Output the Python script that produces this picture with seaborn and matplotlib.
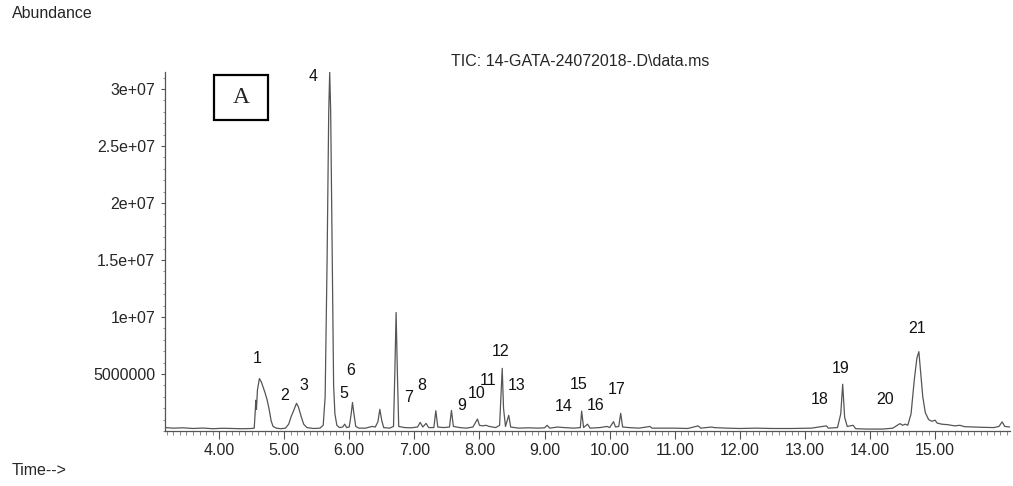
import matplotlib
matplotlib.use("Agg")
import matplotlib.pyplot as plt
import matplotlib.patches as mpatches
from matplotlib.ticker import MultipleLocator, FixedLocator
import seaborn as sns
import pandas as pd

# ---- data ----
time_min = [
    3.17, 3.30, 3.45, 3.60, 3.75, 3.90, 4.05, 4.20, 4.35, 4.50, 4.54, 4.555, 4.565, 4.575,
    4.59, 4.62, 4.65, 4.68, 4.71, 4.74, 4.77, 4.80, 4.83, 4.88, 4.95, 5.02, 5.07, 5.11,
    5.14, 5.16, 5.19, 5.22, 5.26, 5.30, 5.35, 5.45, 5.55, 5.60, 5.63, 5.66, 5.685, 5.70,
    5.715, 5.74, 5.76, 5.78, 5.81, 5.85, 5.90, 5.93, 5.96, 6.00, 6.03, 6.05, 6.07, 6.10,
    6.15, 6.25, 6.35, 6.40, 6.44, 6.47, 6.50, 6.53, 6.62, 6.68, 6.70, 6.72, 6.74, 6.76,
    6.85, 6.95, 7.05, 7.09, 7.13, 7.18, 7.22, 7.30, 7.33, 7.36, 7.45, 7.54, 7.57, 7.60,
    7.70, 7.80, 7.90, 7.97, 8.00, 8.05, 8.10, 8.15, 8.25, 8.31, 8.33, 8.35, 8.37, 8.40,
    8.45, 8.48, 8.60, 8.75, 8.90, 9.00, 9.04, 9.08, 9.20, 9.30, 9.45, 9.55, 9.57, 9.60,
    9.66, 9.70, 9.85, 9.96, 10.00, 10.06, 10.09, 10.14, 10.17, 10.20, 10.30, 10.45, 10.62,
    10.65, 10.85, 11.00, 11.20, 11.36, 11.40, 11.57, 11.60, 11.80, 12.00, 12.25, 12.50,
    12.80, 13.10, 13.33, 13.36, 13.50, 13.55, 13.58, 13.61, 13.65, 13.74, 13.78, 13.95,
    14.20, 14.35, 14.46, 14.50, 14.54, 14.58, 14.63, 14.68, 14.72, 14.75, 14.78, 14.81,
    14.85, 14.90, 14.95, 15.00, 15.03, 15.10, 15.20, 15.30, 15.38, 15.45, 15.60, 15.75,
    15.90, 15.98, 16.03, 16.07, 16.15,
]
abundance_mil = [
    0.30, 0.25, 0.28, 0.22, 0.26, 0.20, 0.24, 0.22, 0.20, 0.22, 0.25, 1.6, 2.7, 1.9,
    3.6, 4.6, 4.3, 3.8, 3.3, 2.7, 1.9, 0.9, 0.4, 0.25, 0.20, 0.25, 0.6, 1.3,
    1.7, 2.0, 2.43, 2.1, 1.3, 0.6, 0.3, 0.22, 0.25, 0.5, 3.0, 15.0, 28.0, 31.5,
    28.0, 15.0, 4.0, 1.5, 0.5, 0.3, 0.35, 0.6, 0.3, 0.35, 1.5, 2.5, 1.6, 0.4,
    0.25, 0.25, 0.4, 0.35, 0.8, 1.9, 0.9, 0.3, 0.25, 0.4, 5.0, 10.4, 5.0, 0.4,
    0.3, 0.28, 0.35, 0.76, 0.35, 0.67, 0.3, 0.3, 1.78, 0.35, 0.3, 0.35, 1.8, 0.4,
    0.3, 0.25, 0.35, 1.05, 0.5, 0.45, 0.5, 0.4, 0.3, 0.5, 3.0, 5.5, 2.0, 0.4,
    1.38, 0.35, 0.25, 0.28, 0.25, 0.28, 0.5, 0.25, 0.35, 0.3, 0.25, 0.3, 1.75, 0.3,
    0.6, 0.25, 0.3, 0.4, 0.3, 0.82, 0.35, 0.4, 1.55, 0.35, 0.3, 0.25, 0.4,
    0.25, 0.25, 0.25, 0.22, 0.45, 0.25, 0.35, 0.30, 0.25, 0.22, 0.25, 0.22,
    0.22, 0.25, 0.45, 0.25, 0.3, 1.5, 4.1, 1.2, 0.4, 0.5, 0.2, 0.17,
    0.17, 0.25, 0.65, 0.5, 0.6, 0.5, 1.5, 4.5, 6.4, 6.96, 5.0, 3.0,
    1.6, 1.0, 0.85, 0.95, 0.7, 0.6, 0.55, 0.45, 0.5, 0.38, 0.35, 0.32,
    0.3, 0.4, 0.8, 0.4, 0.35,
]

peak_labels = [str(i) for i in range(1, 22)]
label_time = [4.59, 5.01, 5.31, 5.45, 5.91, 6.02, 6.91, 7.11, 7.73, 7.96, 8.13,
              8.33, 8.57, 9.30, 9.52, 9.79, 10.11, 13.23, 13.55, 14.23, 14.72]
label_abund_mil = [6.38, 3.1, 3.95, 31.1, 3.3, 5.3, 2.95, 4.0, 2.2, 3.25, 4.47,
                   6.96, 3.95, 2.13, 4.1, 2.28, 3.65, 2.8, 5.5, 2.78, 9.0]

ytick_values = [5e6, 1e7, 1.5e7, 2e7, 2.5e7, 3e7]
ytick_labels = ["5000000", "1e+07", "1.5e+07", "2e+07", "2.5e+07", "3e+07"]
xtick_values = [4, 5, 6, 7, 8, 9, 10, 11, 12, 13, 14, 15]
xtick_labels = [f"{v:.2f}" for v in xtick_values]

title_text = "TIC: 14-GATA-24072018-.D\\data.ms"

# ---- figure ----
sns.set_style("ticks")
plt.rcParams["font.family"] = ["Liberation Sans", "DejaVu Sans"]

df = pd.DataFrame({"time": time_min,
                   "abundance": [v * 1e6 for v in abundance_mil]})

fig = plt.figure(figsize=(10.13, 4.86), dpi=100)
ax = fig.add_axes([165 / 1013, 55 / 486, 845 / 1013, 359 / 486])

sns.lineplot(data=df, x="time", y="abundance", ax=ax, color="#555555",
             linewidth=0.9, estimator=None, sort=False)

ax.set_xlim(3.17, 16.15)
ax.set_ylim(0, 31.5e6)
ax.set_xlabel("")
ax.set_ylabel("")

for s in ["top", "right"]:
    ax.spines[s].set_visible(False)
for s in ["left", "bottom"]:
    ax.spines[s].set_color("#555555")
    ax.spines[s].set_linewidth(0.9)

ax.set_yticks(ytick_values)
ax.set_yticklabels(ytick_labels)
ax.yaxis.set_minor_locator(MultipleLocator(1e6))
ax.set_xticks(xtick_values)
ax.set_xticklabels(xtick_labels)
ax.xaxis.set_minor_locator(FixedLocator([3.2 + 0.1 * i for i in range(130)]))

ax.tick_params(axis="y", which="major", length=3, width=0.8, color="#555555",
               labelsize=11.5, pad=4)
ax.tick_params(axis="y", which="minor", length=1.8, width=0.6, color="#777777")
ax.tick_params(axis="x", which="major", length=5.5, width=0.8, color="#555555",
               labelsize=11.5, pad=3)
ax.tick_params(axis="x", which="minor", length=3.2, width=0.6, color="#777777")

for lab, t, a in zip(peak_labels, label_time, label_abund_mil):
    ax.text(t, a * 1e6, lab, ha="center", va="center", fontsize=11.5,
            color="#111111")

# panel letter box
ax.add_patch(mpatches.Rectangle((0.058, 0.866), 0.064, 0.126,
                                transform=ax.transAxes, fill=False,
                                edgecolor="black", linewidth=1.6, clip_on=False))
ax.text(0.090, 0.929, "A", transform=ax.transAxes, ha="center", va="center",
        fontsize=17, family="Liberation Serif")

fig.text(580 / 1013, 1 - 62 / 486, title_text, ha="center", va="center",
         fontsize=11.5)
fig.text(12 / 1013, 1 - 14 / 486, "Abundance", ha="left", va="center",
         fontsize=11.5)
fig.text(12 / 1013, 1 - 470 / 486, "Time-->", ha="left", va="center",
         fontsize=11.5)

fig.savefig("out.png", dpi=100)
